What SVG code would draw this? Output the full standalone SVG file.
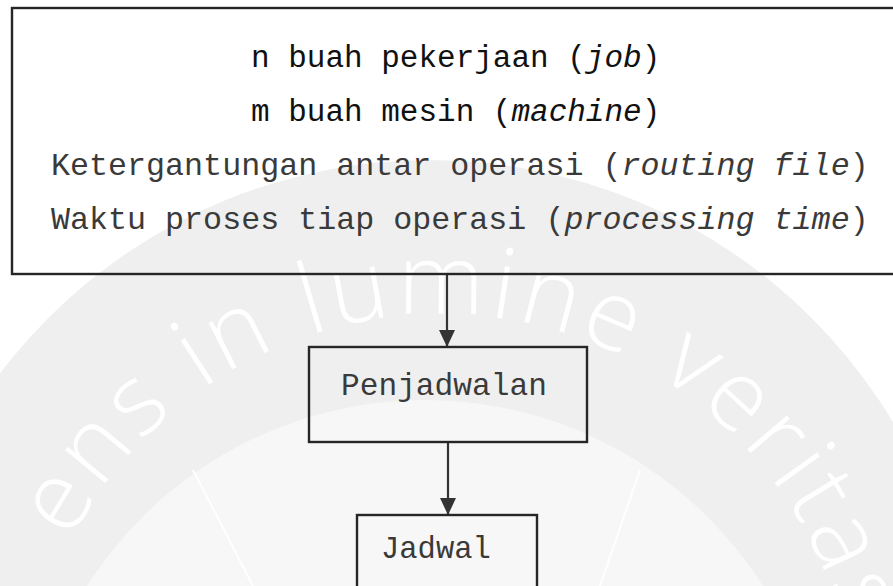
<svg xmlns="http://www.w3.org/2000/svg" width="893" height="586" viewBox="0 0 893 586">
<style>
.box{fill:none;stroke:#262626;stroke-width:2.4}
.edge{stroke:#333;stroke-width:2.2;fill:none}
.t{font-family:"Liberation Mono","Courier New",monospace;fill:#3a3a3a}
.b{fill:#111}
.i{font-style:italic}
.wm{font-family:"Open Sans","Noto Sans",sans-serif;font-weight:300;font-size:98px;fill:#ffffff;letter-spacing:5px}
</style>
<defs>
<marker id="arr" markerUnits="userSpaceOnUse" viewBox="0 0 17 16" refX="17" refY="8" markerWidth="17" markerHeight="16" orient="auto">
<path d="M0,0 L17,8 L0,16 Z" fill="#333"/>
</marker>
<path id="wmArc" d="M 67 548 A 415 415 0 0 1 849 802"/>
</defs>
<rect x="0" y="0" width="893" height="586" fill="#ffffff"/>
<g id="watermark">
<circle cx="430" cy="700" r="540" fill="#efefef"/>
<circle cx="425" cy="800" r="400" fill="#f7f7f7"/>
<line x1="193" y1="470" x2="253" y2="586" stroke="#ffffff" stroke-width="2"/>
<line x1="640" y1="470" x2="600" y2="586" stroke="#ffffff" stroke-width="2"/>
<text class="wm"><textPath href="#wmArc" startOffset="8">ens in lumine veritas</textPath></text>
</g>
<g id="connectors">
<line class="edge" x1="447" y1="275" x2="447" y2="347" marker-end="url(#arr)"/>
<line class="edge" x1="448" y1="443" x2="448" y2="515" marker-end="url(#arr)"/>
</g>
<g id="input">
<rect class="box" x="12" y="8" width="900" height="266"/>
<text class="t b" x="251" y="67" font-size="31">n buah pekerjaan (<tspan class="i">job</tspan>)</text>
<text class="t b" x="251" y="121" font-size="31">m buah mesin (<tspan class="i">machine</tspan>)</text>
<text class="t" x="51" y="175" font-size="31.7">Ketergantungan antar operasi (<tspan class="i">routing file</tspan>)</text>
<text class="t" x="51" y="229" font-size="31.7">Waktu proses tiap operasi (<tspan class="i">processing time</tspan>)</text>
</g>
<g id="penjadwalan">
<rect class="box" x="309" y="347" width="278" height="95"/>
<text class="t" x="341" y="395" font-size="31.2">Penjadwalan</text>
</g>
<g id="jadwal">
<rect class="box" x="357" y="515" width="180" height="100"/>
<text class="t" x="381" y="558" font-size="30.5">Jadwal</text>
</g>
</svg>
